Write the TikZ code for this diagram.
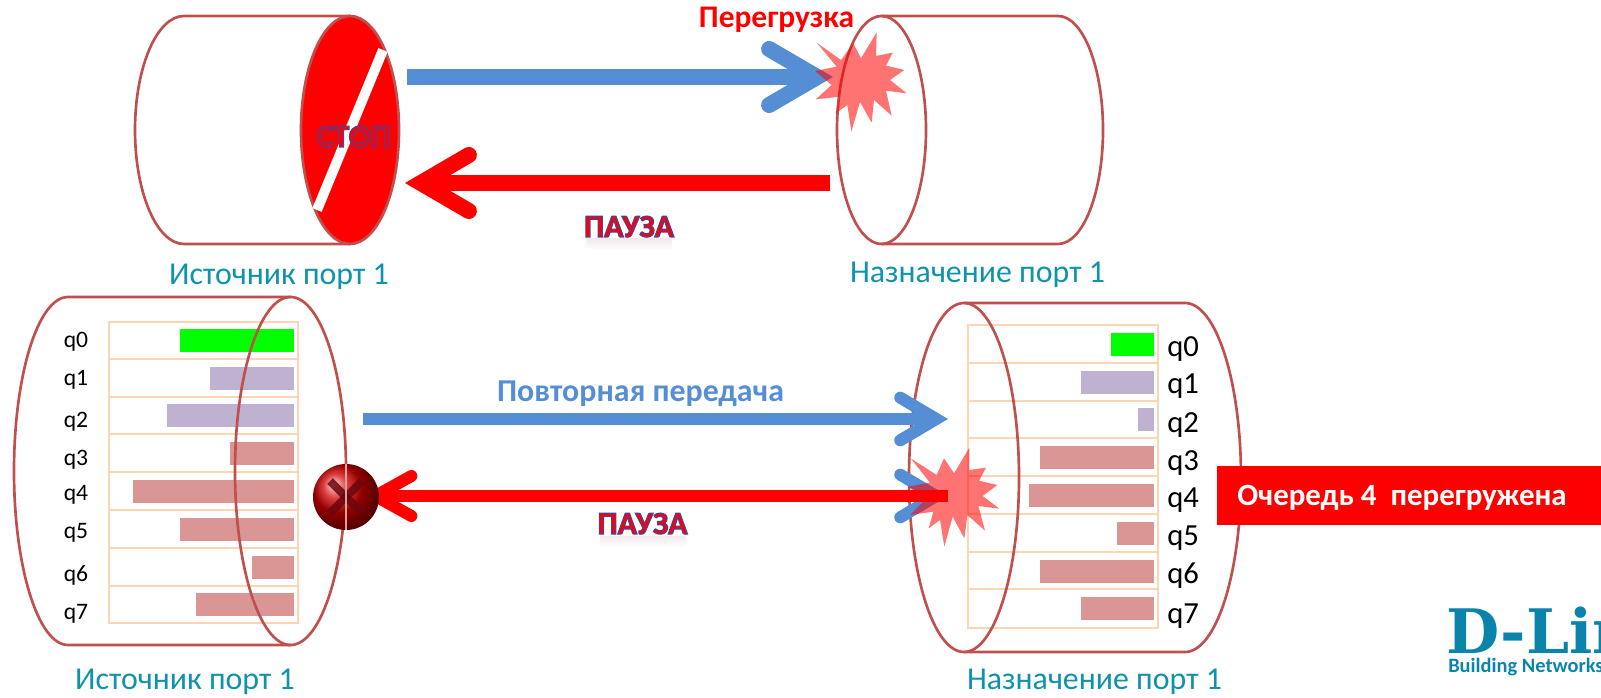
\documentclass[tikz,border=0pt]{standalone}
\usepackage{fontspec}
\setmainfont{Carlito}
\newfontfamily\outlfont[FakeBold=3.5]{Carlito Bold}
\newfontfamily\logofont{DejaVu Serif}
\usetikzlibrary{arrows.meta,shadings}
\definecolor{cylline}{HTML}{C0504D}
\definecolor{arrowblue}{HTML}{558ED5}
\definecolor{tealtext}{HTML}{0F93AD}
\definecolor{rowline}{HTML}{FCD5B5}
\definecolor{barpurple}{HTML}{BFB1D0}
\definecolor{barred}{HTML}{D99694}
\definecolor{logoblue}{HTML}{0B84AC}
\definecolor{ballx}{HTML}{6A060C}
\definecolor{mirror}{HTML}{F3E9EC}
\newcommand{\fs}[1]{\fontsize{#1}{#1}\selectfont}
\newcommand{\outlined}[1]{\special{pdf:bcolor [1 0 0] [0.30 0.25 0.60]}{\outlfont\fs{24}#1}\special{pdf:ecolor}}
\tikzset{
  cyl/.style={draw=cylline,line width=2pt},
  row/.style={draw=rowline,line width=2.2pt},
  burst/.style={fill=red,fill opacity=0.55,draw=none},
  bigblue/.style={draw=arrowblue,line width=12pt,-{Straight Barb[length=36pt,width=42pt,line width=12pt,line cap=round,line join=miter]}},
  bigred/.style={draw=red,line width=12pt,-{Straight Barb[length=36pt,width=42pt,line width=12pt,line cap=round,line join=miter]}},
  midblue/.style={draw=arrowblue,line width=9pt,-{Straight Barb[length=27pt,width=32pt,line width=9pt,line cap=round,line join=miter]}},
  midred/.style={draw=red,line width=9pt,-{Straight Barb[length=27pt,width=30pt,line width=9pt,line cap=round,line join=miter]}},
  porttext/.style={anchor=base,text=tealtext,font=\fs{23.9},inner sep=0pt},
  qsmall/.style={anchor=base,font=\fs{17.7},inner sep=0pt},
  qbig/.style={anchor=base west,font=\fs{23},inner sep=0pt},
  outl/.style={anchor=base,inner sep=0pt},
  ballstyle/.style={circle,minimum size=49.5pt,inner sep=0pt,ball color=red!82!black},
  xstroke/.style={line width=6pt,draw=ballx,opacity=.85},
}
\begin{document}
\begin{tikzpicture}[x=0.75pt,y=-0.75pt]
\useasboundingbox (0,0) rectangle (1601,698);
% ---- top left cylinder
\draw[cyl] (350,16) -- (184,16) arc[start angle=90,end angle=270,x radius=49,y radius=-114] -- (350,244);
\draw[cyl,fill=red] (350,130) ellipse[x radius=49,y radius=114];
\draw[white,line width=7.5pt] (383,50) -- (317,210);
\node[outl] (stop) at (353.5,147) {\outlined{СТОП}};
\node[porttext] (srcTop) at (279,285) {Источник порт 1};
% ---- top right cylinder
\draw[cyl] (881.5,16) -- (1058,16) arc[start angle=90,end angle=-90,x radius=45,y radius=-114] -- (881.5,244);
\draw[cyl] (881.5,130) ellipse[x radius=44.5,y radius=114];
\node[porttext] (dstTop) at (977.5,283) {Назначение порт 1};
% ---- top arrows
\coordinate (tbS) at (407,77);
\coordinate (tbE) at (833,77);
\coordinate (trS) at (830,183);
\coordinate (trE) at (405,183);
\draw[bigblue] (tbS) -- (tbE);
\draw[bigred] (trS) -- (trE);
\begin{scope}[shift={(640,0)},x=0.25pt,y=-0.25pt]
\fill[burst] (530,128) -- (603,180) -- (640,130) -- (663,175) -- (710,97) -- (708,168) -- (758,158) -- (738,197) -- (793,210) -- (750,240) -- (800,280) -- (738,272) -- (755,347) -- (702,300) -- (695,368) -- (660,306) -- (634,395) -- (622,315) -- (587,340) -- (600,290) -- (527,298) -- (575,255) -- (525,213) -- (590,200) -- cycle;
\end{scope}
\node[anchor=base,text=red,font=\bfseries\fs{23.6},inner sep=0pt] (over) at (776.5,28) {Перегрузка};
\shade[top color=mirror,bottom color=white] (586,239) rectangle (672,250);
\node[outl] (pauseTop) at (629,237) {\outlined{ПАУЗА}};
% ---- bottom left
\foreach \i/\a/\b in {0/322/359,1/359/397,2/397/434,3/434/472,4/472/510,5/510/548,6/548/586,7/586/623}
  \draw[row] (109,\a) rectangle (298,\b);
\foreach \l/\a/\b/\c in {180/329/352/green,210/367/390/barpurple,167/404/427/barpurple,230/442/465/barred,133/480/503/barred,180/518/541/barred,252/556/579/barred,196/593/616/barred}
  \fill[\c] (\l,\a) rectangle (294,\b);
\foreach \i/\y in {0/347.7,1/385,2/427.3,3/465,4/500,5/538,6/581,7/619}
  \node[qsmall] (lq\i) at (76,\y) {q\i};
\draw[cyl] (290.5,297) -- (68,297) arc[start angle=90,end angle=270,x radius=54,y radius=-174] -- (290.5,645);
\draw[cyl] (290.5,471) ellipse[x radius=55.5,y radius=174];
\node[porttext] (srcBot) at (185,689) {Источник порт 1};
% ---- bottom right
\foreach \i/\a/\b in {0/325/363,1/363/401,2/401/438,3/438/476,4/476/514,5/514/552,6/552/589,7/589/628}
  \draw[row] (968,\a) rectangle (1158,\b);
\foreach \l/\a/\b/\c in {1111/333/356/green,1081/371/394/barpurple,1138/408/431/barpurple,1040/446/469/barred,1029/484/507/barred,1117/522/545/barred,1040/560/583/barred,1081/597/620/barred}
  \fill[\c] (\l,\a) rectangle (1154,\b);
\foreach \i/\y in {0/356,1/393,2/432,3/470,4/507,5/545,6/583,7/623}
  \node[qbig] (rq\i) at (1167,\y) {q\i};
\draw[cyl] (964,303) -- (1185,303) arc[start angle=90,end angle=-90,x radius=56,y radius=-174.5] -- (964,652);
\draw[cyl] (964,477.5) ellipse[x radius=55,y radius=174.5];
\node[porttext] (dstBot) at (1094.5,689) {Назначение порт 1};
% ---- bottom arrows
\coordinate (bbS) at (363,419);
\coordinate (bbE) at (948,419);
\coordinate (cbS) at (363,496);
\coordinate (cbE) at (948,496);
\coordinate (crS) at (948,496);
\coordinate (crE) at (363,496);
\draw[midblue] (bbS) -- (bbE);
\draw[midblue] (cbS) -- (cbE);
\draw[midred] (crS) -- (crE);
\node[ballstyle] (stopball) at (346,497) {};
\draw[xstroke] (stopball.center) ++(-16,-16) -- ++(32,32);
\draw[xstroke] (stopball.center) ++(16,-16) -- ++(-32,32);
\draw[cylline!55!white,line width=2pt] (stopball.north) -- (stopball.south);
\begin{scope}[shift={(880,290)},x=0.25pt,y=-0.25pt]
\fill[burst] (92,505) -- (170,555) -- (192,505) -- (222,550) -- (268,473) -- (268,540) -- (318,533) -- (297,572) -- (352,585) -- (308,618) -- (358,656) -- (295,648) -- (315,722) -- (262,675) -- (253,745) -- (218,680) -- (193,770) -- (180,690) -- (146,715) -- (160,665) -- (90,675) -- (135,630) -- (85,590) -- (150,578) -- cycle;
\end{scope}
\node[anchor=base,text=arrowblue,font=\bfseries\fs{23.9},inner sep=0pt] (resend) at (640.5,401) {Повторная передача};
\shade[top color=mirror,bottom color=white] (600,536) rectangle (686,547);
\node[outl] (pauseBot) at (642.5,534) {\outlined{ПАУЗА}};
% ---- overload box
\node[anchor=north west,fill=red,minimum width=288.75pt,minimum height=44.25pt,inner sep=0pt,outer sep=0pt] (ovbox) at (1217,466) {};
\node[anchor=base west,text=white,font=\bfseries\fs{23.2},inner sep=0pt] (ovtext) at (1237,505) {Очередь 4\ \ перегружена};
% ---- logo
\begin{scope}
\clip (0,0) rectangle (1601,698);
\node[anchor=base west,text=logoblue,font=\logofont\bfseries\fs{46},inner sep=0pt] (logo) at (1446,653) {D-Lin};
\node[anchor=base west,text=logoblue,font=\bfseries\fs{15.3},inner sep=0pt] (tag) at (1448,672) {Building Networks};
\end{scope}
\end{tikzpicture}
\end{document}
